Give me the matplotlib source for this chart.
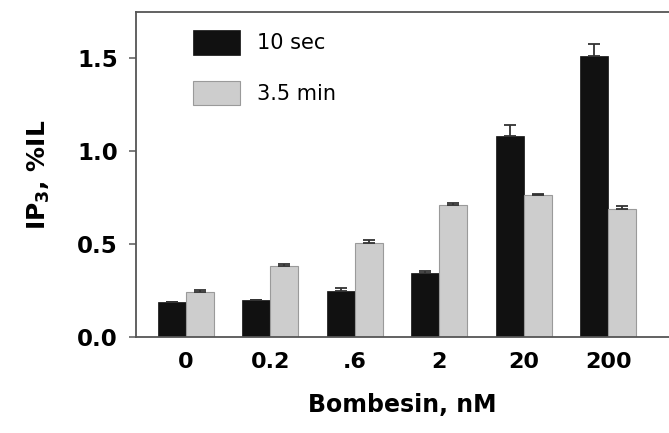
import numpy as np
import matplotlib.pyplot as plt

# Bombesin dose response, IP3 (%IL)
doses = ['0', '0.2', '.6', '2', '20', '200']
ip3_10sec = [0.19, 0.20, 0.25, 0.345, 1.08, 1.515]
err_10sec = [0.0, 0.0, 0.015, 0.01, 0.06, 0.063]
ip3_35min = [0.243, 0.383, 0.504, 0.713, 0.763, 0.687]
err_35min = [0.012, 0.01, 0.02, 0.009, 0.009, 0.02]

index = np.arange(len(doses))
bar_width = 0.33

fig = plt.figure(figsize=(6.69, 4.33), dpi=100)
ax = fig.add_axes([0.203, 0.2217, 0.797, 0.7506])

ax.bar(index - bar_width / 2, ip3_10sec, bar_width, color='#111111',
       edgecolor='#111111', linewidth=0.5, label='10 sec',
       yerr=[np.zeros(len(doses)), err_10sec], capsize=4,
       error_kw=dict(ecolor='#333333', elinewidth=1.3, capthick=1.3))
ax.bar(index + bar_width / 2, ip3_35min, bar_width, color='#cdcdcd',
       edgecolor='#9a9a9a', linewidth=0.8, label='3.5 min',
       yerr=[np.zeros(len(doses)), err_35min], capsize=4,
       error_kw=dict(ecolor='#333333', elinewidth=1.3, capthick=1.3))

ax.set_xlim(-0.592, 5.72)
ax.set_ylim(0, 1.75)
ax.set_yticks([0.0, 0.5, 1.0, 1.5])
ax.set_yticklabels(['0.0', '0.5', '1.0', '1.5'], fontsize=16.5, fontweight='bold')
ax.set_xticks(index)
ax.set_xticklabels(doses, fontsize=16, fontweight='bold')
ax.tick_params(axis='x', length=0, pad=11)
ax.tick_params(axis='y', length=5, width=1.2, color='#666666', pad=8)

for side in ['left', 'bottom', 'top']:
    ax.spines[side].set_color('#555555')
    ax.spines[side].set_linewidth(1.3)
ax.spines['right'].set_visible(False)

ax.set_xlabel('Bombesin, nM', fontsize=17, fontweight='bold', labelpad=15)
ax.set_ylabel(r'IP$_\mathbf{3}$, %IL', fontsize=18, fontweight='bold', labelpad=18)

ax.legend(loc='upper left', bbox_to_anchor=(0.107, 0.945), frameon=False,
          fontsize=15, handlelength=2.25, handleheight=1.45, labelspacing=1.25,
          handletextpad=0.85, borderpad=0, borderaxespad=0)

fig.savefig('out.png', dpi=100)
